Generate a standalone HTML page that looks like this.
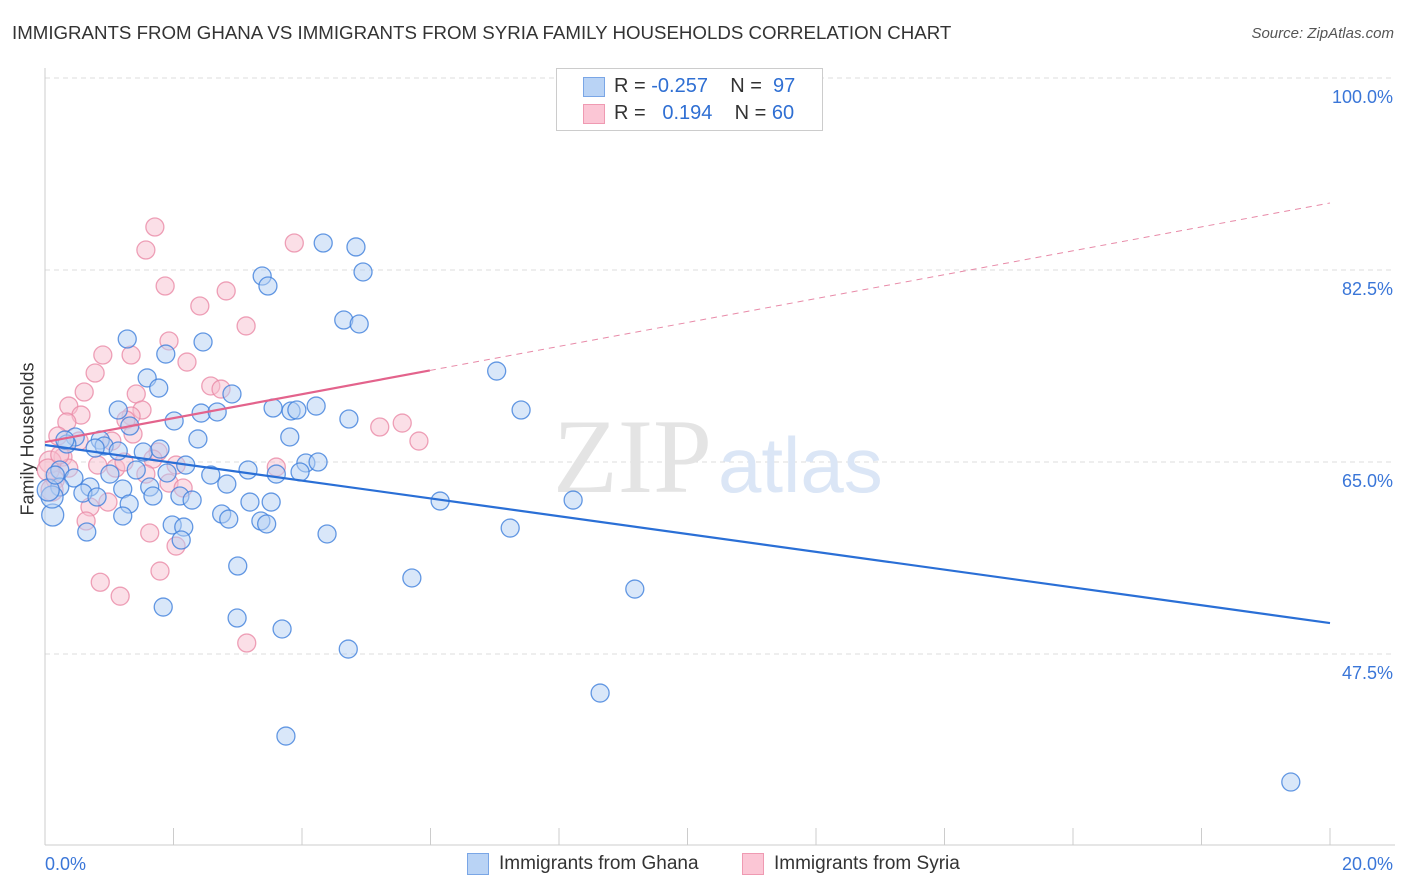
<!DOCTYPE html>
<html><head><meta charset="utf-8">
<style>
body{margin:0;background:#fff;font-family:"Liberation Sans",sans-serif;}
#wrap{position:relative;width:1406px;height:892px;overflow:hidden;}
.t{position:absolute;white-space:nowrap;}
</style></head>
<body>
<div id="wrap">
<div class="t" style="left:12px;top:22px;font-size:18.7px;color:#333;">IMMIGRANTS FROM GHANA VS IMMIGRANTS FROM SYRIA FAMILY HOUSEHOLDS CORRELATION CHART</div>
<div class="t" style="right:12px;top:25px;font-size:15px;color:#555;font-style:italic;">Source: ZipAtlas.com</div>
<div class="t" style="left:-32px;top:445px;font-size:18px;color:#333;transform:rotate(-90deg);transform-origin:center;width:120px;text-align:center;">Family Households</div>
<svg id="svg" width="1406" height="892" style="position:absolute;left:0;top:0"></svg>
<div style="position:absolute;left:556px;top:68px;width:265px;height:61px;border:1px solid #ccc;background:#fff;">
 <div style="position:absolute;left:26px;top:8px;width:20px;height:18px;background:#b9d3f5;border:1px solid #7aa6e6;"></div>
 <div style="position:absolute;left:26px;top:35px;width:20px;height:18px;background:#fbc6d5;border:1px solid #ef9ab2;"></div>
 <div class="t" style="left:57px;top:6px;font-size:20px;color:#333;">R = <span style="color:#2f6fd3">-0.257</span>&nbsp;&nbsp;&nbsp; N = <span style="color:#2f6fd3">&nbsp;97</span></div>
 <div class="t" style="left:57px;top:33px;font-size:20px;color:#333;">R = &nbsp;&nbsp;<span style="color:#2f6fd3">0.194</span>&nbsp;&nbsp;&nbsp; N = <span style="color:#2f6fd3">60</span></div>
</div>
<div style="position:absolute;left:467px;top:853px;height:22px;">
 <div style="position:absolute;left:0;top:0;width:20px;height:20px;background:#b9d3f5;border:1px solid #7aa6e6;"></div>
 <div class="t" style="left:32px;top:0;font-size:19px;color:#333;">Immigrants from Ghana</div>
 <div style="position:absolute;left:275px;top:0;width:20px;height:20px;background:#fbc6d5;border:1px solid #ef9ab2;"></div>
 <div class="t" style="left:307px;top:0;font-size:19px;color:#333;">Immigrants from Syria</div>
</div>
</div>
<script>
const blueX=[4.33,4.84,4.95,3.38,3.47,4.65,4.89,1.28,2.46,1.88,1.59,1.77,2.91,7.03,7.41,1.14,2.01,2.43,2.68,3.55,3.83,3.92,4.22,4.73,1.32,2.38,3.81,0.47,0.86,0.92,1.53,1.79,1.14,0.78,0.34,0.23,0.45,1.01,1.42,1.90,2.19,2.58,3.16,3.60,4.06,4.25,3.97,2.83,1.21,1.63,0.70,0.59,0.23,0.81,1.68,2.10,2.29,3.19,3.52,6.15,8.22,1.31,2.75,2.86,1.21,3.36,3.45,1.98,2.16,0.65,4.39,7.24,2.12,3.00,5.71,9.18,1.84,2.99,3.69,4.72,8.64,3.75,19.39,0.12,0.11,0.05,0.31,0.16];
const blueY=[84.96,84.60,82.32,81.95,81.04,77.94,77.58,76.21,75.94,74.84,72.66,71.74,71.20,73.29,69.74,69.74,68.74,69.46,69.56,69.92,69.65,69.74,70.10,68.92,68.28,67.10,67.28,67.28,67.00,66.46,65.91,66.18,66.00,66.27,66.64,64.27,63.54,63.90,64.27,64.00,64.72,63.81,64.27,63.90,64.91,65.00,64.09,62.99,62.54,62.72,62.72,62.17,62.72,61.81,61.90,61.90,61.53,61.35,61.35,61.44,61.53,61.17,60.26,59.80,60.08,59.62,59.35,59.26,59.07,58.62,58.44,58.98,57.89,55.52,54.43,53.42,51.78,50.78,49.78,47.95,43.94,40.02,35.83,60.17,61.81,62.45,67.00,63.81];
const pinkX=[1.71,1.57,3.88,1.87,2.82,2.41,3.13,1.93,0.90,1.34,2.21,0.78,2.58,2.74,0.61,1.42,0.37,0.56,1.51,1.34,1.26,0.34,5.21,5.56,5.82,0.20,0.53,1.04,1.37,1.76,1.68,0.28,0.37,0.82,1.10,1.23,1.57,2.04,3.60,0.16,0.70,0.98,1.93,2.15,0.64,1.63,2.04,1.79,0.86,1.17,3.14,0.08,0.05,0.11,0.23];
const pinkY=[86.42,84.32,84.96,81.04,80.59,79.22,77.40,76.03,74.75,74.75,74.11,73.11,71.93,71.65,71.38,71.20,70.10,69.28,69.74,69.19,68.83,68.64,68.19,68.55,66.91,67.37,66.91,66.91,67.55,65.91,65.27,65.45,64.44,64.72,64.44,65.00,63.90,64.72,64.54,63.36,60.90,61.35,63.08,62.63,59.62,58.53,57.34,55.06,54.04,52.77,48.50,65.00,64.27,62.45,65.64];
const xTicks=["0.0%","20.0%"];
const yTicks=[100,82.5,65,47.5];
const blueTrend=[66.55,50.32];
const pinkTrend=[66.82,88.61];
const pinkSolidEnd=5.99;
const X=v=>45+v/20*1285;
const Y=v=>78+(100-v)/17.5*192;
const NS="http://www.w3.org/2000/svg";
const svg=document.getElementById('svg');
function mk(tag,attrs){const e=document.createElementNS(NS,tag);for(const k in attrs)e.setAttribute(k,attrs[k]);svg.appendChild(e);return e;}
yTicks.forEach((t,i)=>{
 const g=mk('line',{x1:45,x2:1395,y1:Y(t),y2:Y(t),stroke:'#ddd','stroke-dasharray':'5,4'});
 
 
 const tx=mk('text',{x:1393,y:Y(t)+25,'text-anchor':'end','font-size':18,fill:'#3a76d8','font-family':'Liberation Sans, sans-serif'});
 tx.textContent=(t===100?'100.0':t.toFixed(1))+'%';
 
 
});
const ax=mk('line',{x1:45,x2:1395,y1:845,y2:845,stroke:'#ccc'});


const ay=mk('line',{x1:45,x2:45,y1:68,y2:845,stroke:'#ccc'});


for(let i=0;i<=10;i++){
 const tk=mk('line',{x1:X(i*2),x2:X(i*2),y1:828,y2:845,stroke:'#ccc'});
 
 
}
xTicks.forEach((l,i)=>{
 const tx=mk('text',{x:i?1393:45,y:870,'text-anchor':i?'end':'start','font-size':18,fill:'#3a76d8','font-family':'Liberation Sans, sans-serif'});
 tx.textContent=l;
 
 
});
const wm=mk('text',{x:553,y:492,'font-size':106,fill:'#e4e4e4','font-family':'Liberation Serif, serif'});
wm.textContent='ZIP';


const wm2=mk('text',{x:718,y:492,'font-size':78,fill:'#dbe6f6','font-family':'Liberation Sans, sans-serif'});
wm2.textContent='atlas';


function dots(xs,ys,fill,stroke,name){
 xs.forEach((x,i)=>{
  const r=x<0.13?11:9;
  const c=mk('circle',{cx:X(x),cy:Y(ys[i]),r:r,fill:fill,'fill-opacity':0.5,stroke:stroke,'stroke-width':1.3,'stroke-opacity':0.8});
  
  
 });
}
dots(pinkX,pinkY,'#f8bfd0','#ea8aa6','syria-point');
dots(blueX,blueY,'#b4cff3','#3f7fdc','ghana-point');
const bl=mk('line',{x1:X(0),y1:Y(blueTrend[0]),x2:X(20),y2:Y(blueTrend[1]),stroke:'#2a6fd6','stroke-width':2.2});


const ps=pinkTrend[0]+(pinkTrend[1]-pinkTrend[0])*pinkSolidEnd/20;
const pl=mk('line',{x1:X(0),y1:Y(pinkTrend[0]),x2:X(pinkSolidEnd),y2:Y(ps),stroke:'#e3638c','stroke-width':2.2});


const pd=mk('line',{x1:X(pinkSolidEnd),y1:Y(ps),x2:X(20),y2:Y(pinkTrend[1]),stroke:'#e88aa8','stroke-width':1,'stroke-dasharray':'6,5'});


</script>
</body></html>
